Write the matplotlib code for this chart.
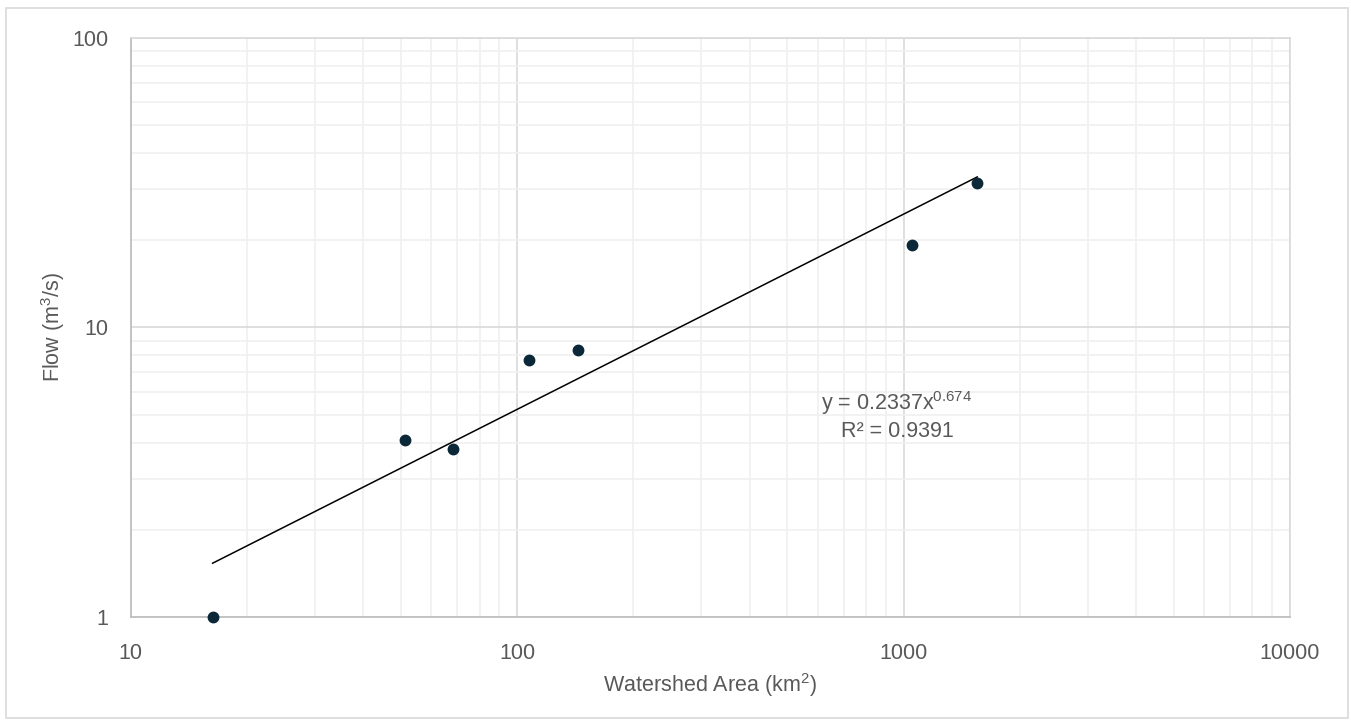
import numpy as np
import matplotlib
matplotlib.use('AGG')
import matplotlib.pyplot as plt
from matplotlib.patches import Rectangle
from matplotlib.ticker import FixedLocator, LogLocator, NullFormatter

plt.rcParams['font.family'] = ['Liberation Sans', 'DejaVu Sans']
plt.rcParams['mathtext.fontset'] = 'custom'
plt.rcParams['mathtext.rm'] = 'Liberation Sans'
plt.rcParams['mathtext.it'] = 'Liberation Sans'
plt.rcParams['mathtext.default'] = 'regular'

# watershed area (km2) and flow (m3/s)
area = [16.3, 51.3, 68.2, 107.3, 143.5, 1049, 1552]
flow = [1.0, 4.08, 3.80, 7.70, 8.33, 19.3, 31.6]

# power trendline reported on the chart
coef = 0.2337
expo = 0.674
r2 = 0.9391

xticks = [10, 100, 1000, 10000]
yticks = [1, 10, 100]

grey = '#595959'
fs = 15.5

fig = plt.figure(figsize=(13.51, 7.25), dpi=100)
ax = fig.add_axes([0.0967, 0.149, 0.8581, 0.799])

xs = np.array([min(area), max(area)])
ax.plot(xs, coef * xs ** expo, color='black', lw=1.1, zorder=3)
ax.plot(area, flow, 'o', color='#0b2838', ms=7.5, zorder=4, clip_on=False)

ax.set_xscale('log')
ax.set_yscale('log')
ax.set_xlim(10, 10000)
ax.set_ylim(1, 100)

ax.xaxis.set_major_locator(FixedLocator(xticks))
ax.yaxis.set_major_locator(FixedLocator(yticks))
ax.set_xticklabels([str(t) for t in xticks])
ax.set_yticklabels([str(t) for t in yticks])
ax.xaxis.set_minor_locator(LogLocator(base=10, subs=np.arange(2, 10)))
ax.yaxis.set_minor_locator(LogLocator(base=10, subs=np.arange(2, 10)))
ax.xaxis.set_minor_formatter(NullFormatter())
ax.yaxis.set_minor_formatter(NullFormatter())

ax.grid(which='major', color='#d9d9d9', lw=1.2)
ax.grid(which='minor', color='#f0f0f0', lw=1.2)
ax.set_axisbelow(True)
ax.tick_params(which='both', length=0, labelsize=fs, colors=grey)
ax.tick_params(axis='x', pad=19)
ax.tick_params(axis='y', pad=16)

for side in ['left', 'bottom']:
    ax.spines[side].set_color('#bfbfbf')
    ax.spines[side].set_linewidth(1.3)
for side in ['top', 'right']:
    ax.spines[side].set_color('#d9d9d9')
    ax.spines[side].set_linewidth(1.2)

ax.set_xlabel('Watershed Area (km$^{2}$)', fontsize=fs, color=grey, va='center')
ax.set_ylabel('Flow (m$^{3}$/s)', fontsize=fs, color=grey, va='center')
ax.xaxis.set_label_coords(0.5, -0.117)
ax.yaxis.set_label_coords(-0.067, 0.5)

ax.text(0.661, 0.347, 'y = 0.2337x$^{0.674}$\nR\u00b2 = 0.9391', transform=ax.transAxes,
        ha='center', va='center', fontsize=fs, color=grey, linespacing=1.25)

fig.patches.append(Rectangle((0.0044, 0.009), 0.9934, 0.98, transform=fig.transFigure,
                             fill=False, edgecolor='#d9d9d9', lw=1.2))

fig.savefig('out.png')
plt.close(fig)
